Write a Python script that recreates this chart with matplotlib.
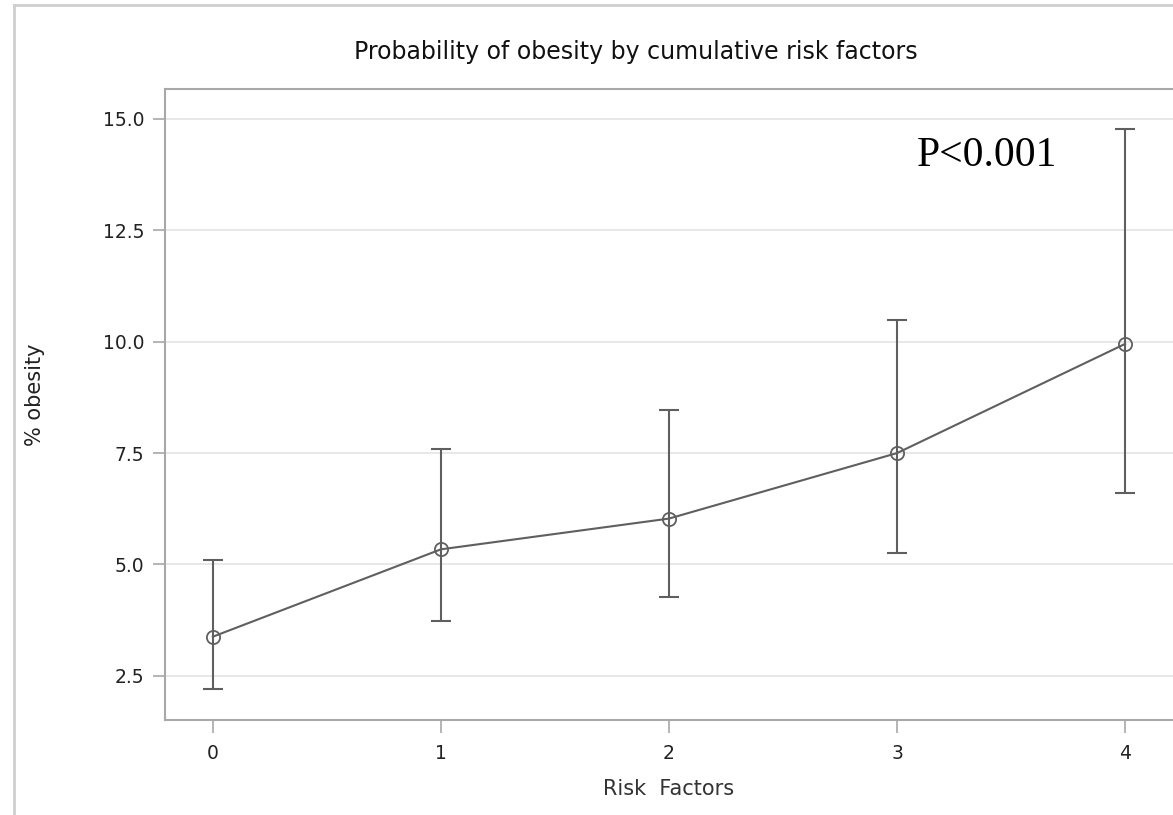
import numpy as np
import matplotlib
matplotlib.use('Agg')
import matplotlib.pyplot as plt
from matplotlib.lines import Line2D

# values
risk_factors = [0, 1, 2, 3, 4]
pct_obesity = [3.38, 5.34, 6.03, 7.50, 9.95]
ci_lower = [2.21, 3.74, 4.26, 5.25, 6.60]
ci_upper = [5.11, 7.59, 8.47, 10.49, 14.78]
y_ticks = [2.5, 5.0, 7.5, 10.0, 12.5, 15.0]

LINE_COLOR = '#5f5f5f'
AXIS_COLOR = '#a8a8a8'
GRID_COLOR = '#e4e4e4'

plt.rcParams['font.family'] = ['DejaVu Sans']

fig = plt.figure(figsize=(11.73, 8.15), dpi=100)
ax = fig.add_axes([165 / 1173, 1 - 720 / 815, 1 - 165 / 1173, (720 - 89) / 815])

y = np.array(pct_obesity)
err = np.array([y - np.array(ci_lower), np.array(ci_upper) - y])

ax.errorbar(risk_factors, y, yerr=err, fmt='none', ecolor=LINE_COLOR,
            elinewidth=1.5, capsize=7.5, capthick=1.5, zorder=3)
ax.plot(risk_factors, y, color=LINE_COLOR, lw=1.5, marker='o', markersize=9.5,
        markerfacecolor='none', markeredgecolor=LINE_COLOR, markeredgewidth=1.3,
        zorder=4)

ax.set_xlim(-0.21, 4.21)
ax.set_ylim(1.51, 15.67)
ax.set_xticks(risk_factors)
ax.set_yticks(y_ticks)
ax.set_yticklabels(['%.1f' % t for t in y_ticks])

ax.yaxis.grid(True, color=GRID_COLOR, lw=1.2)
ax.set_axisbelow(True)

for side in ['left', 'top', 'bottom']:
    ax.spines[side].set_color(AXIS_COLOR)
    ax.spines[side].set_linewidth(1.5)
ax.spines['right'].set_visible(False)

ax.tick_params(axis='both', color=AXIS_COLOR, width=1.2, length=9,
               labelsize=13.5, labelcolor='#222222')
ax.tick_params(axis='y', pad=6)
ax.tick_params(axis='x', pad=8)

ax.set_xlabel('Risk  Factors', fontsize=15, color='#333333', labelpad=12)
ax.set_ylabel('% obesity', fontsize=15, color='#222222')
ax.yaxis.set_label_coords(-120 / 1008, 0.515)
fig.text(636 / 1173, 1 - 52 / 815, 'Probability of obesity by cumulative risk factors',
         ha='center', va='center', fontsize=17, color='#111111')

ax.text(0.885, 0.895, 'P<0.001', transform=ax.transAxes, ha='right', va='center',
        fontsize=30, family='Liberation Serif', color='black')

# outer frame of the original export
fig.add_artist(Line2D([14 / 1173, 14 / 1173], [0, 1 - 5 / 815], transform=fig.transFigure,
                      color='#cfcfcf', lw=2))
fig.add_artist(Line2D([14 / 1173, 1], [1 - 5 / 815, 1 - 5 / 815], transform=fig.transFigure,
                      color='#cfcfcf', lw=2))

fig.savefig('out.png', dpi=100)
